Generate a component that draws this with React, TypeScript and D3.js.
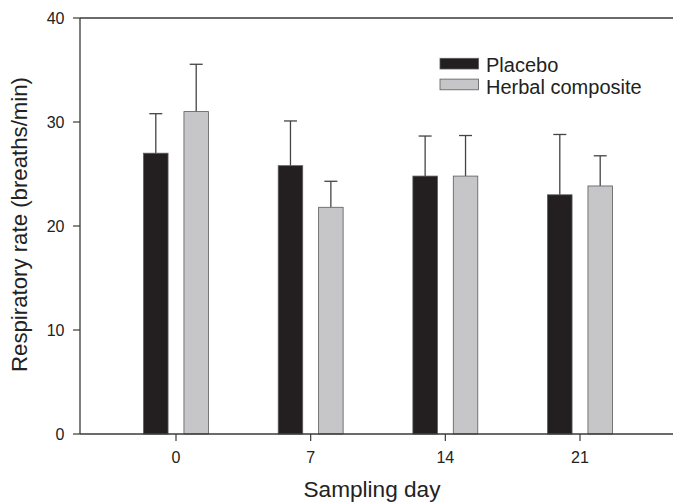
import React from "react";
import * as d3 from "d3";

const days = [0, 7, 14, 21];
const placeboMean = [27.0, 25.8, 24.8, 23.0];
const placeboSD = [3.8, 4.3, 3.85, 5.8];
const herbalMean = [31.0, 21.8, 24.8, 23.85];
const herbalSD = [4.55, 2.5, 3.9, 2.9];
const yTicks = [0, 10, 20, 30, 40];
const seriesNames = ["Placebo", "Herbal composite"];
const seriesColors = ["#231f20", "#c6c6c8"];

const W = 673;
const H = 502;
const left = 80;
const right = 673;
const top = 18;
const bottom = 434;

export default function App() {
  const x = d3.scaleLinear().domain([0, 21]).range([176, 580]);
  const y = d3.scaleLinear().domain([0, 40]).range([bottom, top]);
  const barW = 24.5;
  const off = 20.2;
  const capW = 13;
  const font = "'Liberation Sans', Arial, Helvetica, sans-serif";
  const axisColor = "#3a3a3a";

  const series = [
    { mean: placeboMean, sd: placeboSD, dx: -off, color: seriesColors[0] },
    { mean: herbalMean, sd: herbalSD, dx: off, color: seriesColors[1] },
  ];

  return (
    <svg
      width={W}
      height={H}
      style={{ position: "absolute", left: 0, top: 0, display: "block", background: "#fff" }}
      fontFamily={font}
    >
      {/* bars */}
      {series.map((s, si) =>
        days.map((d, i) => {
          const cx = x(d) + s.dx;
          const yTop = y(s.mean[i]);
          const yErr = y(s.mean[i] + s.sd[i]);
          return (
            <g key={`${si}-${i}`}>
              <line x1={cx} x2={cx} y1={yTop} y2={yErr} stroke="#444" strokeWidth={1.3} />
              <line x1={cx - capW / 2} x2={cx + capW / 2} y1={yErr} y2={yErr} stroke="#444" strokeWidth={1.3} />
              <rect
                x={cx - barW / 2}
                y={yTop}
                width={barW}
                height={bottom - yTop}
                fill={s.color}
                stroke="#5a5a5a"
                strokeWidth={0.8}
              />
            </g>
          );
        })
      )}

      {/* axes frame */}
      <line x1={left} x2={right} y1={top} y2={top} stroke={axisColor} strokeWidth={1.3} />
      <line x1={left} x2={right} y1={bottom} y2={bottom} stroke={axisColor} strokeWidth={1.3} />
      <line x1={left} x2={left} y1={top} y2={bottom} stroke={axisColor} strokeWidth={1.3} />

      {/* y ticks */}
      {yTicks.map((t) => (
        <g key={`y${t}`}>
          <line x1={left - 7} x2={left} y1={y(t)} y2={y(t)} stroke={axisColor} strokeWidth={1.2} />
          <text x={64.5} y={y(t) + 5.6} textAnchor="end" fontSize={16} fill="#222">
            {t}
          </text>
        </g>
      ))}

      {/* x ticks */}
      {days.map((d) => (
        <g key={`x${d}`}>
          <line x1={x(d)} x2={x(d)} y1={bottom} y2={bottom + 7} stroke={axisColor} strokeWidth={1.2} />
          <text x={x(d)} y={463.3} textAnchor="middle" fontSize={16} fill="#222">
            {d}
          </text>
        </g>
      ))}

      {/* axis titles */}
      <text x={372} y={497} textAnchor="middle" fontSize={22} fill="#222" textLength={137} lengthAdjust="spacingAndGlyphs">
        Sampling day
      </text>
      <text
        transform={`translate(27, ${224.5}) rotate(-90)`}
        textAnchor="middle"
        fontSize={22}
        fill="#222"
        textLength={295}
        lengthAdjust="spacingAndGlyphs"
      >
        Respiratory rate (breaths/min)
      </text>

      {/* legend */}
      {seriesNames.map((n, i) => (
        <g key={n}>
          <rect x={440} y={58.3 + i * 20.8} width={38.5} height={10.7} fill={seriesColors[i]} stroke="#5a5a5a" strokeWidth={0.8} />
          <text x={486} y={71.7 + i * 21.8} fontSize={20} fill="#222">
            {n}
          </text>
        </g>
      ))}
    </svg>
  );
}
